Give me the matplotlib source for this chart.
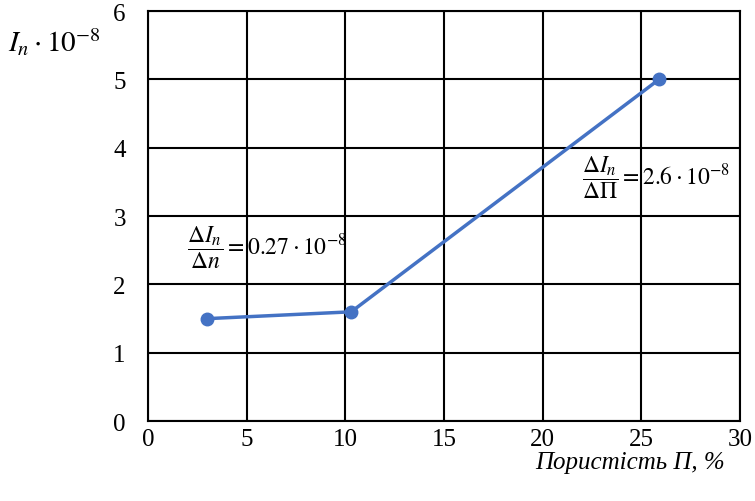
import matplotlib
matplotlib.use("Agg")
import matplotlib.pyplot as plt

# porosity (%) and I_n (x1e-8)
porosity = [3.0, 10.3, 25.9]
intensity = [1.5, 1.6, 5.0]

x_ticks = [0, 5, 10, 15, 20, 25, 30]
y_ticks = [0, 1, 2, 3, 4, 5, 6]

plt.rcParams['font.family'] = ['Liberation Serif', 'DejaVu Serif']
plt.rcParams['mathtext.fontset'] = 'stix'

fig = plt.figure(figsize=(7.55, 5.02), dpi=100)
ax = fig.add_axes([0.196, 0.159, 0.784, 0.817])

ax.plot(porosity, intensity, color='#4472C4', lw=2.5, marker='o', ms=9, zorder=3)

ax.set_xlim(0, 30)
ax.set_ylim(0, 6)
ax.set_xticks(x_ticks)
ax.set_yticks(y_ticks)
ax.tick_params(length=0, labelsize=18)
ax.tick_params(axis='y', pad=16)
ax.tick_params(axis='x', pad=5)
ax.grid(True, color='black', lw=1.5)
for s in ax.spines.values():
    s.set_linewidth(1.5)

ax.text(2.0, 2.55, r'$\dfrac{\Delta I_n}{\Delta n} = 0.27 \cdot 10^{-8}$',
        fontsize=17, va='center', ha='left')
ax.text(22.0, 3.57, r'$\dfrac{\Delta I_n}{\Delta \Pi} = 2.6 \cdot 10^{-8}$',
        fontsize=17, va='center', ha='left')

fig.text(0.01, 0.915, r'$I_n \cdot 10^{-8}$', fontsize=21, va='center', ha='left')
fig.text(0.96, 0.077, 'Пористість П, %', fontsize=18, style='italic',
         va='center', ha='right')

fig.savefig('out.png', dpi=100)
